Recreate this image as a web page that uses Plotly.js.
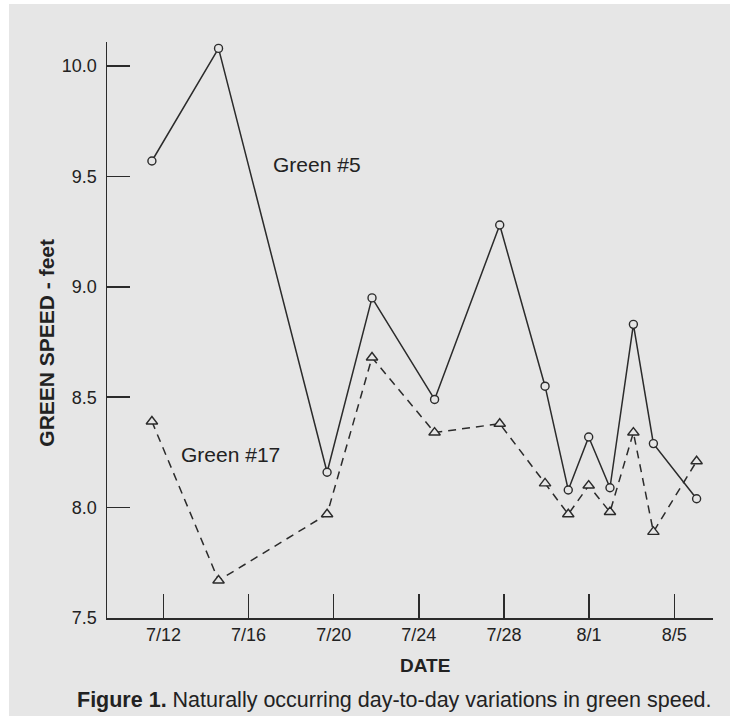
<!DOCTYPE html>
<html>
<head>
<meta charset="utf-8">
<script src="https://cdn.plot.ly/plotly-3.0.1.min.js"></script>
<style>
  html, body { margin: 0; padding: 0; background: #ffffff; }
  #chart { width: 740px; height: 716px; }
</style>
</head>
<body>
<div id="chart"></div>
<script>
// Tick labels on the date axis and their positions (days after 7/12)
const tickLabels = ['7/12', '7/16', '7/20', '7/24', '7/28', '8/1', '8/5'];
const tickDays = [0, 4, 8, 12, 16, 20, 24];

// Measurement positions (days after 7/12, as drawn)
const measureDays = [-0.54, 2.59, 7.69, 9.8, 12.74, 15.8, 17.93, 19.02, 19.98, 20.98, 22.08, 23.02, 25.05];

// Green speed (feet)
const green5 = [9.57, 10.08, 8.16, 8.95, 8.49, 9.28, 8.55, 8.08, 8.32, 8.09, 8.83, 8.29, 8.04];
const green17 = [8.39, 7.67, 7.97, 8.68, 8.34, 8.38, 8.11, 7.97, 8.10, 7.98, 8.34, 7.89, 8.21];

// Y ticks
const yTicks = [7.5, 8.0, 8.5, 9.0, 9.5, 10.0];

const ink = '#2b2b2b';
const paperGrey = '#e6e6e6';
const font = 'Liberation Sans, Arial, Helvetica, sans-serif';

const traces = [
  {
    x: measureDays, y: green5, type: 'scatter', mode: 'lines+markers',
    line: { color: ink, width: 1.5 },
    marker: { symbol: 'circle', size: 8, color: paperGrey, line: { color: ink, width: 1.4 } },
    hoverinfo: 'skip'
  },
  {
    x: measureDays, y: green17, type: 'scatter', mode: 'lines+markers',
    line: { color: ink, width: 1.5, dash: '8px,6px' },
    marker: { symbol: 'triangle-up', size: 10, color: paperGrey, line: { color: ink, width: 1.4 } },
    hoverinfo: 'skip'
  }
];

const layout = {
  width: 740, height: 716,
  margin: { l: 107, r: 27, t: 42, b: 98, pad: 0 },
  paper_bgcolor: '#ffffff',
  plot_bgcolor: 'rgba(0,0,0,0)',
  showlegend: false,
  font: { family: font, color: '#222222', size: 18 },
  xaxis: {
    range: [-2.65, 25.82],
    tickmode: 'array', tickvals: tickDays, ticktext: tickLabels,
    ticks: 'inside', ticklen: 24, tickwidth: 1.5, tickcolor: ink,
    showline: true, linecolor: ink, linewidth: 1.5,
    showgrid: false, zeroline: false,
    tickfont: { family: font, size: 18, color: '#222222' },
    fixedrange: true
  },
  yaxis: {
    range: [7.5, 10.109],
    tickmode: 'array', tickvals: yTicks,
    tickformat: '.1f',
    ticks: 'inside', ticklen: 23, tickwidth: 1.5, tickcolor: ink,
    ticklabelstandoff: 5,
    showline: true, linecolor: ink, linewidth: 1.5,
    showgrid: false, zeroline: false,
    tickfont: { family: font, size: 18, color: '#222222' },
    fixedrange: true
  },
  shapes: [
    {
      type: 'rect', xref: 'paper', yref: 'paper', layer: 'below',
      x0: -0.1617, x1: 1.028, y0: -0.175, y1: 1.066,
      fillcolor: paperGrey, line: { width: 0 }
    }
  ],
  annotations: [
    {
      text: 'Green #5', xref: 'paper', yref: 'paper', x: 0.3465, y: 0.7865,
      xanchor: 'center', yanchor: 'middle',
      showarrow: false, font: { family: font, size: 21, color: '#222222' }
    },
    {
      text: 'Green #17', xref: 'paper', yref: 'paper', x: 0.2046, y: 0.283,
      xanchor: 'center', yanchor: 'middle',
      showarrow: false, font: { family: font, size: 21, color: '#222222' }
    },
    {
      text: '<b>GREEN SPEED - feet</b>', xref: 'paper', yref: 'paper', x: -0.099, y: 0.478,
      xanchor: 'center', yanchor: 'middle',
      textangle: -90, showarrow: false, font: { family: font, size: 21, color: '#222222' }
    },
    {
      text: '<b>DATE</b>', xref: 'paper', yref: 'paper', x: 0.5248, y: -0.0816,
      xanchor: 'center', yanchor: 'middle',
      showarrow: false, font: { family: font, size: 19, color: '#222222' }
    },
    {
      text: '<b>Figure 1.</b> Naturally occurring day-to-day variations in green speed.',
      xref: 'paper', yref: 'paper', x: 0.475, y: -0.1424,
      xanchor: 'center', yanchor: 'middle',
      showarrow: false, font: { family: font, size: 21.5, color: '#222222' }
    }
  ],
  hovermode: false
};

Plotly.newPlot('chart', traces, layout, { displayModeBar: false, staticPlot: true });
</script>
</body>
</html>
